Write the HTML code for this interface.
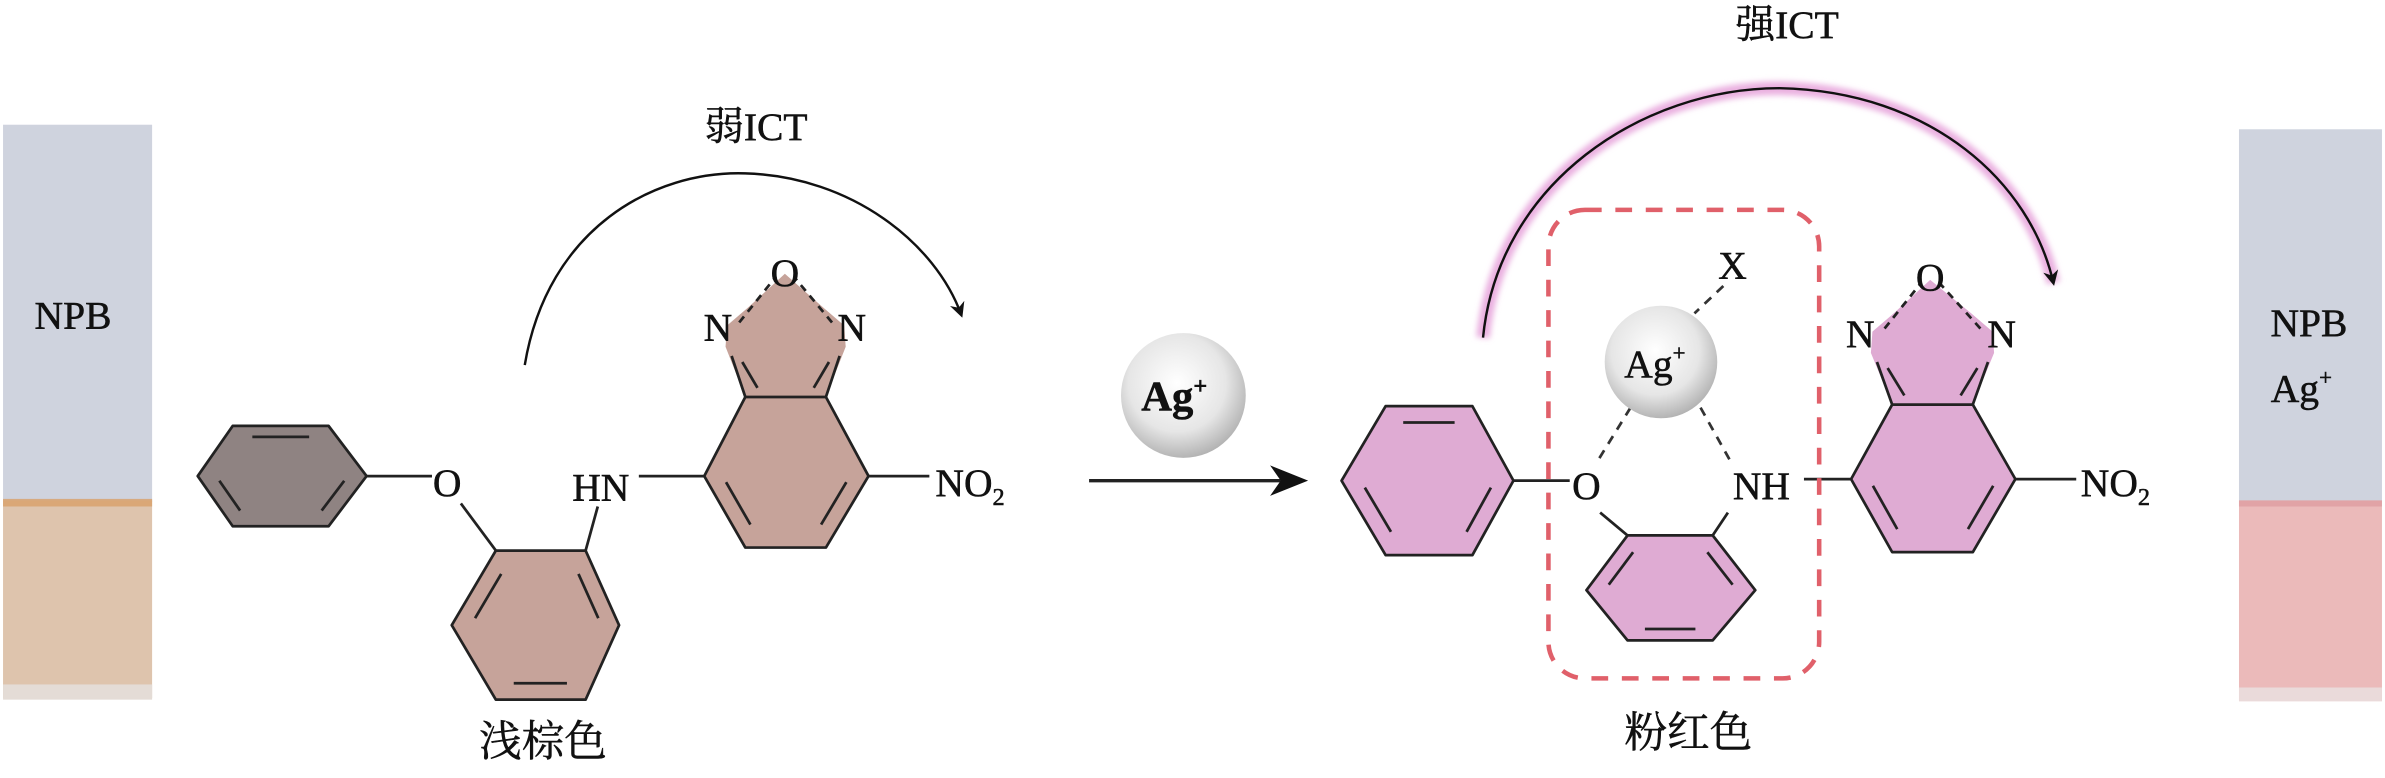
<!DOCTYPE html>
<html><head><meta charset="utf-8"><style>
html,body{margin:0;padding:0;background:#fff;}
svg{display:block;}
text{font-family:"Liberation Serif","Noto Serif CJK SC","Noto Sans CJK SC",serif;fill:#111;stroke:#111;stroke-width:0.35;}
</style></head><body>
<svg id="s" width="2385" height="778" viewBox="0 0 1568 511.5" preserveAspectRatio="none" xmlns="http://www.w3.org/2000/svg">
<defs>
<radialGradient id="ball" cx="0.45" cy="0.4" r="0.65">
<stop offset="0" stop-color="#ffffff"/><stop offset="0.6" stop-color="#e6e6e6"/><stop offset="1" stop-color="#a9a9a9"/>
</radialGradient>
<marker id="ah" markerWidth="10" markerHeight="10" refX="8" refY="5" orient="auto" markerUnits="userSpaceOnUse">
<path d="M0,0 L10,5 L0,10 L3,5 Z" fill="#111"/></marker>
<filter id="blur"><feGaussianBlur stdDeviation="2"/></filter>
</defs>
<!-- left vial -->
<rect x="2" y="82" width="98" height="248" fill="#cfd3de"/>
<rect x="2" y="329" width="98" height="130" fill="#dec4ad"/>
<rect x="2" y="328" width="98" height="5" fill="#d8a068" opacity="0.8"/>
<rect x="2" y="450" width="98" height="10" fill="#e4dcd6"/>
<text x="48" y="216" font-size="26" text-anchor="middle">NPB</text>
<!-- right vial -->
<rect x="1472" y="85" width="94" height="245" fill="#cfd3de"/>
<rect x="1472" y="329" width="94" height="132" fill="#ebbaba"/>
<rect x="1472" y="329" width="94" height="4" fill="#dd9a9e" opacity="0.7"/>
<rect x="1472" y="452" width="94" height="9" fill="#eadada"/>
<text x="1518" y="221" font-size="26" text-anchor="middle">NPB</text>
<text x="1513" y="264" font-size="26" text-anchor="middle">Ag<tspan font-size="15" dy="-11">+</tspan></text>

<g id="mol" stroke="#222" stroke-width="1.8" stroke-linejoin="round"></g>

<!-- left labels -->
<text x="497" y="92" font-size="26" text-anchor="middle">弱ICT</text>
<path d="M345,240 C360,150 430,112 490,114 C560,116 615,160 632,207" fill="none" stroke="#111" stroke-width="1.6" marker-end="url(#ah)"/>
<text x="294" y="326" font-size="26" text-anchor="middle">O</text>
<text x="395" y="329" font-size="26" text-anchor="middle">HN</text>
<text x="472" y="224" font-size="26" text-anchor="middle">N</text>
<text x="560" y="224" font-size="26" text-anchor="middle">N</text>
<text x="516" y="188" font-size="26" text-anchor="middle">O</text>
<text x="615" y="326" font-size="26">NO<tspan font-size="16" dy="6">2</tspan></text>
<text x="357" y="497" font-size="28" text-anchor="middle">浅棕色</text>

<!-- arrow and Ag ball -->
<line x1="716" y1="316" x2="855" y2="316" stroke="#222" stroke-width="2.2"/>
<path d="M835,306 L860,316 L835,326 L842,316 Z" fill="#111"/>
<circle cx="778" cy="260" r="41" fill="url(#ball)"/>
<text x="772" y="270" font-size="28" text-anchor="middle" font-weight="bold">Ag<tspan font-size="16" dy="-11">+</tspan></text>

<!-- right -->
<text x="1175" y="25" font-size="26" text-anchor="middle">强ICT</text>
<path d="M975,222 C985,120 1080,58 1170,58 C1270,60 1335,120 1350,186" fill="none" stroke="#eab0e0" stroke-width="9" filter="url(#blur)"/>
<path d="M975,222 C985,120 1080,58 1170,58 C1270,60 1335,120 1350,186" fill="none" stroke="#111" stroke-width="1.6" marker-end="url(#ah)"/>
<rect x="1018" y="138" width="178" height="308" rx="24" fill="none" stroke="#e0606a" stroke-width="3" stroke-dasharray="11,9"/>
<text x="1139" y="183" font-size="26" text-anchor="middle">X</text>
<g stroke="#333" stroke-width="1.8" stroke-dasharray="6,5">
<line x1="1133" y1="188" x2="1114" y2="206"/>
<line x1="1072" y1="268" x2="1051" y2="302"/>
<line x1="1118" y1="268" x2="1137" y2="302"/>
</g>
<circle cx="1092" cy="238" r="37" fill="url(#ball)"/>
<text x="1088" y="248" font-size="26" text-anchor="middle">Ag<tspan font-size="15" dy="-11">+</tspan></text>
<text x="1043" y="328" font-size="26" text-anchor="middle">O</text>
<text x="1158" y="328" font-size="26" text-anchor="middle">NH</text>
<text x="1223" y="228" font-size="26" text-anchor="middle">N</text>
<text x="1316" y="228" font-size="26" text-anchor="middle">N</text>
<text x="1269" y="191" font-size="26" text-anchor="middle">O</text>
<text x="1368" y="326" font-size="26">NO<tspan font-size="16" dy="6">2</tspan></text>
<text x="1110" y="491" font-size="28" text-anchor="middle">粉红色</text>
</svg>
<script>
var g=document.getElementById('mol'),NS='http://www.w3.org/2000/svg';
function el(t,a){var e=document.createElementNS(NS,t);for(var k in a)e.setAttribute(k,a[k]);g.appendChild(e);return e;}
function ring(P,fill,inner){
 el('polygon',{points:P.map(p=>p.join(',')).join(' '),fill:fill});
 var cx=0,cy=0;P.forEach(p=>{cx+=p[0];cy+=p[1]});cx/=P.length;cy/=P.length;
 inner.forEach(function(i){var a=P[i],b=P[(i+1)%P.length];
  var f=0.78;var ax=cx+(a[0]-cx)*f,ay=cy+(a[1]-cy)*f,bx=cx+(b[0]-cx)*f,by=cy+(b[1]-cy)*f;
  var s=0.12;el('line',{x1:ax+(bx-ax)*s,y1:ay+(by-ay)*s,x2:bx-(bx-ax)*s,y2:by-(by-ay)*s});});
}
function L(a,b,c,d,dash){var e=el('line',{x1:a,y1:b,x2:c,y2:d});if(dash)e.setAttribute('stroke-dasharray','5,4');}
function five(UL,UR,Nl,Nr,O,fill){
 el('polygon',{points:[UL,[Nl[0]-3,Nl[1]],[Nl[0]-2,Nl[1]-14],[Nl[0]+12,Nl[1]-26],O,[Nr[0]-12,Nr[1]-26],[Nr[0]+2,Nr[1]-14],[Nr[0]+3,Nr[1]],UR].map(p=>p.join(',')).join(' '),fill:fill,stroke:'none'});
 L(UL[0],UL[1],Nl[0]+1,Nl[1]+6);L(UR[0],UR[1],Nr[0]-1,Nr[1]+6);
 L(UL[0]+8,UL[1]-6,Nl[0]+8,Nl[1]+10);L(UR[0]-8,UR[1]-6,Nr[0]-8,Nr[1]+10);
 L(Nl[0]+6,Nl[1]-16,O[0]-6,O[1]+2,1);L(Nr[0]-6,Nr[1]-16,O[0]+6,O[1]+2,1);
}
var brown='#c6a39a',pink='#dfabd3';
// left
ring([[130,313],[153,280],[216,280],[241,313],[216,346],[153,346]],'#8f8382',[1,3,5]);
L(241,313,284,313);
ring([[326,362],[385,362],[407,411],[385,460],[326,460],[297,411]],brown,[1,3,5]);
L(303,331,326,362);L(385,362,393,333);L(420,313,463,313);
five([490,261],[543,261],[480,228],[553,228],[516,180],brown);
ring([[463,313],[490,261],[543,261],[571,313],[543,360],[490,360]],brown,[3,5]);
L(571,313,611,313);
// right
ring([[882,316],[911,267],[968,267],[995,316],[968,365],[911,365]],pink,[1,3,5]);
L(995,316,1032,316);
ring([[1070,352],[1126,352],[1154,388],[1126,421],[1070,421],[1043,388]],pink,[1,3,5]);
L(1052,337,1070,352);L(1136,337,1126,352);L(1186,315,1217,315);
five([1244,266],[1297,266],[1233,232],[1308,232],[1269,184],pink);
ring([[1217,315],[1244,266],[1297,266],[1325,315],[1297,363],[1244,363]],pink,[3,5]);
L(1325,315,1365,315);
</script>
</body></html>
